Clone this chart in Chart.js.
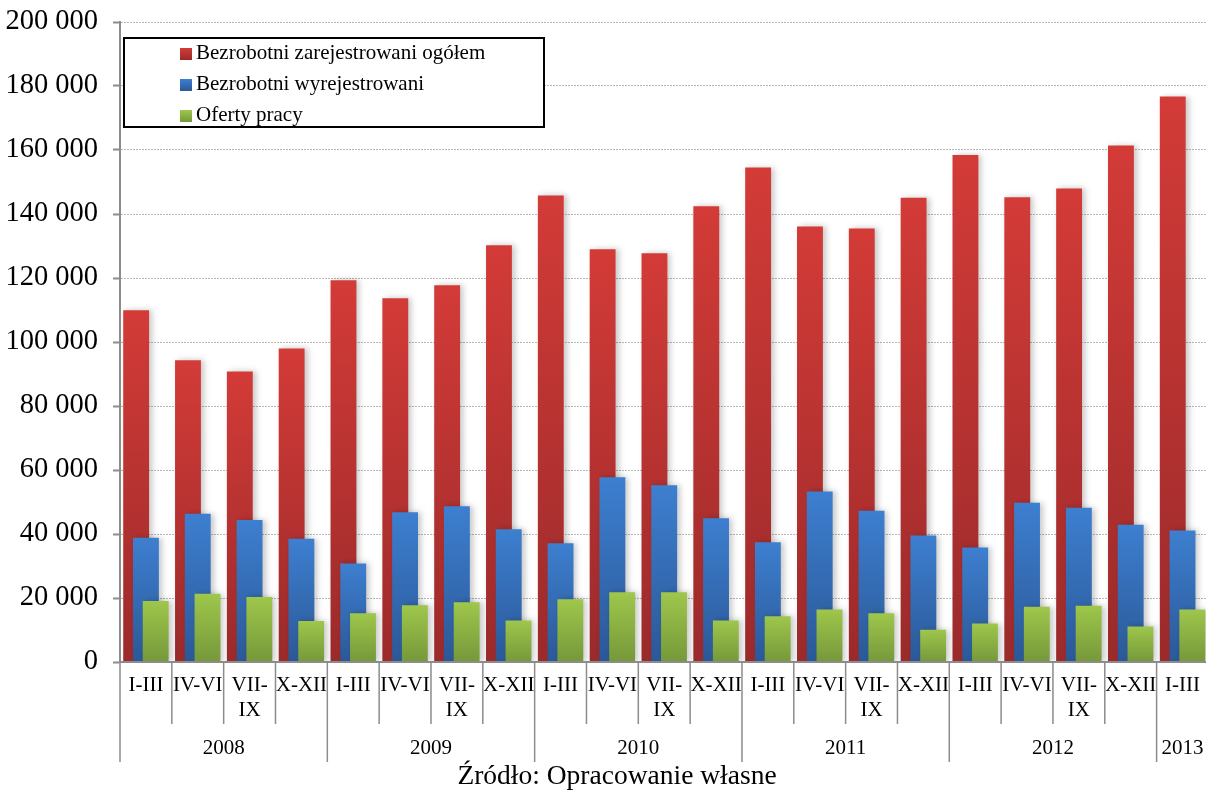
<!DOCTYPE html>
<html>
<head>
<meta charset="utf-8">
<title>Bezrobotni i oferty pracy</title>
<script src="https://cdn.jsdelivr.net/npm/chart.js@4/dist/chart.umd.min.js"></script>
<style>
    html, body { margin: 0; padding: 0; background: #fff; overflow: hidden; width: 1206px; height: 791px; }
    #wrap { position: relative; width: 1211px; height: 791px; }
    #legenda { position: absolute; left: 123px; top: 37px; width: 418px; height: 87px; border: 2px solid #000;
               font-family: "Liberation Serif", serif; font-size: 21px; color: #000; background: #fff; }
    #legenda .poz { position: absolute; left: 55px; height: 30px; line-height: 30px; white-space: nowrap; }
    #legenda .kw { display: inline-block; width: 12px; height: 12px; margin-right: 4px; vertical-align: -1px; }
    #zrodlo { position: absolute; left: 0; width: 1234px; top: 759px; text-align: center;
              font-family: "Liberation Serif", serif; font-size: 27.5px; color: #000; }
</style>
</head>
<body>
<div id="wrap">
    <canvas id="myChart" width="1211" height="791"></canvas>
    <div id="legenda"></div>
    <div id="zrodlo">Źródło: Opracowanie własne</div>
</div>
<script>
// kwartały i lata
var kwartaly = ['I-III', 'IV-VI', ['VII-', 'IX'], 'X-XII',
                'I-III', 'IV-VI', ['VII-', 'IX'], 'X-XII',
                'I-III', 'IV-VI', ['VII-', 'IX'], 'X-XII',
                'I-III', 'IV-VI', ['VII-', 'IX'], 'X-XII',
                'I-III', 'IV-VI', ['VII-', 'IX'], 'X-XII',
                'I-III'];
var lata = ['2008', '2009', '2010', '2011', '2012', '2013'];
var kwartalyWRoku = [4, 4, 4, 4, 4, 1];

var zarejestrowani = [109900, 94300, 90800, 98000, 119300, 113700, 117700, 130200, 145800, 129000, 127700,
                      142400, 154500, 136100, 135500, 145100, 158400, 145200, 148000, 161400, 176700];
var wyrejestrowani = [38800, 46300, 44400, 38500, 30800, 46800, 48700, 41500, 37100, 57700, 55200,
                      44900, 37400, 53300, 47300, 39500, 35800, 49800, 48200, 42900, 41100];
var oferty = [19100, 21300, 20300, 12800, 15200, 17700, 18700, 13000, 19600, 21800, 21800,
              13000, 14300, 16400, 15200, 10100, 12000, 17300, 17600, 11100, 16400];

var nazwy = ['Bezrobotni zarejestrowani ogółem', 'Bezrobotni wyrejestrowani', 'Oferty pracy'];
var kolory = [['#d33b37', '#9b2a2b'], ['#3d7fd0', '#2b5897'], ['#9ec74b', '#76983a']];

var czcionka = '"Liberation Serif", "Times New Roman", serif';

// gradient dla każdego słupka osobno (od wierzchołka do podstawy)
function gradient(gora, dol) {
    return function (c) {
        var chart = c.chart;
        if (!chart.chartArea || c.type !== 'data' || !chart.scales.y) return dol;
        var y = chart.scales.y;
        var g = chart.ctx.createLinearGradient(0, y.getPixelForValue(c.raw), 0, y.getPixelForValue(0));
        g.addColorStop(0, gora);
        g.addColorStop(1, dol);
        return g;
    };
}

function formatuj(v) {
    return String(v).replace(/\B(?=(\d{3})+(?!\d))/g, ' ');
}

// rysowanie słupków w kolejności: czerwony, niebieski, zielony (zielony na wierzchu) + cień
var kolejnosc = {
    id: 'kolejnosc',
    beforeDatasetsDraw: function (chart) {
        var ctx = chart.ctx, a = chart.chartArea;
        ctx.save();
        ctx.beginPath();
        ctx.rect(a.left, a.top - 5, a.right - a.left, a.bottom - a.top + 5);
        ctx.clip();
        ctx.shadowColor = 'rgba(0, 0, 0, 0.22)';
        ctx.shadowBlur = 6;
        ctx.shadowOffsetX = 3;
        ctx.shadowOffsetY = 0;
        for (var i = 0; i < chart.data.datasets.length; i++) {
            chart.getDatasetMeta(i).controller.draw();
        }
        ctx.restore();
        return false;
    }
};

// linie podziału kwartałów/lat oraz etykiety lat
var osLat = {
    id: 'osLat',
    afterDraw: function (chart) {
        var ctx = chart.ctx, x = chart.scales.x, dol = chart.chartArea.bottom;
        var pol = (x.getPixelForValue(1) - x.getPixelForValue(0)) / 2;
        var granice = [0];
        var s = 0;
        kwartalyWRoku.forEach(function (n) { s += n; granice.push(s); });
        ctx.save();
        ctx.strokeStyle = '#8c8c8c';
        ctx.lineWidth = 1.5;
        for (var i = 0; i <= kwartaly.length; i++) {
            var px = x.getPixelForValue(i) - pol;
            var dl = granice.indexOf(i) >= 0 ? 100 : 62;
            ctx.beginPath();
            ctx.moveTo(px, dol);
            ctx.lineTo(px, dol + dl);
            ctx.stroke();
        }
        ctx.fillStyle = '#000';
        ctx.font = '21px ' + czcionka;
        ctx.textAlign = 'center';
        ctx.textBaseline = 'middle';
        for (var j = 0; j < lata.length; j++) {
            var x0 = x.getPixelForValue(granice[j]) - pol;
            var x1 = x.getPixelForValue(granice[j + 1]) - pol;
            ctx.fillText(lata[j], (x0 + x1) / 2, dol + 86);
        }
        ctx.restore();
    }
};

var dane = [zarejestrowani, wyrejestrowani, oferty];
var zbiory = dane.map(function (d, i) {
    return {
        label: nazwy[i],
        data: d,
        backgroundColor: gradient(kolory[i][0], kolory[i][1]),
        borderWidth: 0,
        categoryPercentage: 0.565,
        barPercentage: 2.65
    };
});

var ctx = document.getElementById('myChart').getContext('2d');
var myChart = new Chart(ctx, {
    type: 'bar',
    data: { labels: kwartaly, datasets: zbiory },
    options: {
        responsive: false,
        animation: false,
        layout: { padding: { top: 22, left: 0, right: 0, bottom: 0 } },
        plugins: { legend: { display: false }, tooltip: { enabled: false } },
        scales: {
            x: {
                grid: { display: false, drawTicks: false },
                border: { display: true, color: '#8c8c8c', width: 2, z: 1 },
                ticks: { color: '#000', font: { family: czcionka, size: 21 }, padding: 11, maxRotation: 0, autoSkip: false },
                afterFit: function (s) { s.height = 129; }
            },
            y: {
                min: 0,
                max: 200000,
                grid: { color: '#b8b8b8', lineWidth: 1, tickLength: 7, tickColor: '#8c8c8c', tickWidth: 2, tickBorderDash: [] },
                border: { display: true, color: '#8c8c8c', width: 2, dash: [2, 1], z: 1 },
                ticks: {
                    stepSize: 20000,
                    color: '#000',
                    padding: 15,
                    font: { family: czcionka, size: 28.5 },
                    callback: function (v) { return formatuj(v); }
                },
                afterFit: function (s) { s.width = 120; s.paddingTop = 0; s.paddingBottom = 0; }
            }
        }
    },
    plugins: [kolejnosc, osLat]
});

// legenda w ramce
var leg = document.getElementById('legenda');
nazwy.forEach(function (n, i) {
    var p = document.createElement('div');
    p.className = 'poz';
    p.style.top = (i * 31 - 2) + 'px';
    var k = document.createElement('span');
    k.className = 'kw';
    k.style.background = 'linear-gradient(' + kolory[i][0] + ',' + kolory[i][1] + ')';
    p.appendChild(k);
    p.appendChild(document.createTextNode(n));
    leg.appendChild(p);
});
</script>
</body>
</html>
